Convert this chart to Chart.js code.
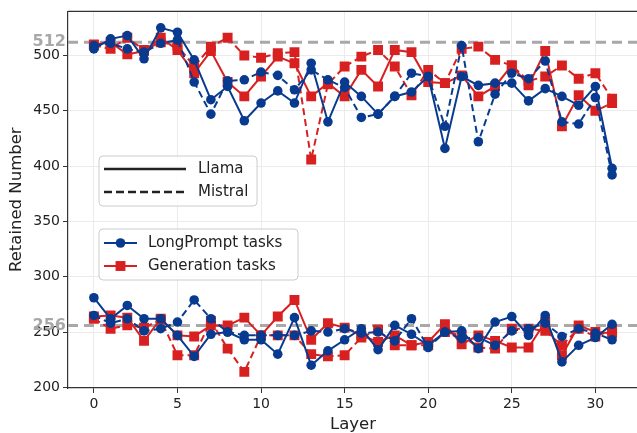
<!DOCTYPE html>
<html>
<head>
<meta charset="utf-8">
<script src="https://cdn.jsdelivr.net/npm/chart.js@4.4.1/dist/chart.umd.min.js"></script>
<style>
html, body { margin: 0; padding: 0; background: #fff; }
#wrap { width: 637px; height: 433px; overflow: hidden; }
</style>
</head>
<body>
<div id="wrap"><canvas id="myChart" width="645" height="433"></canvas></div>
<script>
var layers = [0, 1, 2, 3, 4, 5, 6, 7, 8, 9, 10, 11, 12, 13, 14, 15, 16, 17, 18, 19, 20, 21, 22, 23, 24, 25, 26, 27, 28, 29, 30, 31];

// budget 512
var llamaLong512 = [506, 515, 518, 497, 525, 521, 496, 460, 472, 441, 457, 468, 457, 493, 440, 476, 463, 447, 463, 467, 481, 416, 481, 473, 475, 475, 459, 470, 463, 455, 472, 398];
var mistralLong512 = [509, 511, 506, 503, 511, 514, 476, 447, 477, 478, 485, 482, 469, 487, 478, 471, 444, 447, 463, 484, 481, 436, 509, 422, 465, 484, 479, 495, 440, 438, 462, 392];
var llamaGen512 = [510, 512, 501, 504, 516, 505, 484, 504, 476, 463, 481, 499, 493, 463, 475, 463, 487, 472, 505, 503, 476, 475, 482, 463, 472, 491, 473, 504, 436, 464, 450, 457];
var mistralGen512 = [509, 506, 516, 505, 512, 509, 490, 508, 516, 500, 498, 502, 503, 406, 474, 490, 499, 505, 490, 464, 487, 475, 506, 508, 496, 491, 477, 481, 491, 479, 484, 461];

// budget 256
var llamaLong256 = [281, 262, 274, 262, 262, 247, 228, 248, 250, 243, 243, 230, 263, 220, 233, 243, 253, 234, 256, 248, 238, 250, 251, 235, 259, 264, 247, 265, 223, 238, 245, 257];
var mistralLong256 = [265, 258, 262, 251, 253, 259, 279, 262, 250, 247, 247, 247, 247, 251, 250, 253, 249, 250, 242, 262, 236, 250, 244, 245, 238, 251, 253, 258, 246, 253, 249, 243];
var llamaGen256 = [264, 265, 263, 242, 262, 247, 246, 256, 256, 263, 247, 264, 279, 243, 258, 254, 247, 241, 247, 238, 241, 257, 239, 247, 242, 236, 236, 259, 229, 256, 250, 249];
var mistralGen256 = [262, 253, 256, 254, 261, 229, 229, 260, 235, 214, 247, 247, 247, 230, 228, 229, 245, 252, 238, 238, 238, 250, 247, 236, 235, 253, 253, 251, 238, 253, 246, 252];

var budgets = [512, 256];
var xTicks = [0, 5, 10, 15, 20, 25, 30];
var yTicks = [200, 250, 300, 350, 400, 450, 500];

var BLUE = '#083b8f';
var RED = '#d92020';
var FONT = "'DejaVu Sans', sans-serif";
var DASH = [7, 4];

function toPoints(vals) {
    return vals.map(function(v, i) { return {x: layers[i], y: v}; });
}

function makeSet(label, vals, color, style, dashed) {
    return {
        label: label,
        data: toPoints(vals),
        borderColor: color,
        backgroundColor: color,
        borderWidth: 2,
        borderDash: dashed ? DASH : [],
        pointStyle: style,
        pointRadius: style == 'circle' ? 4.8 : 7,
        pointBorderWidth: 0,
        pointHoverRadius: 0,
        tension: 0
    };
}

function roundRect(ctx, x, y, w, h, r) {
    ctx.beginPath();
    ctx.moveTo(x + r, y);
    ctx.lineTo(x + w - r, y);
    ctx.arcTo(x + w, y, x + w, y + r, r);
    ctx.lineTo(x + w, y + h - r);
    ctx.arcTo(x + w, y + h, x + w - r, y + h, r);
    ctx.lineTo(x + r, y + h);
    ctx.arcTo(x, y + h, x, y + h - r, r);
    ctx.lineTo(x, y + r);
    ctx.arcTo(x, y, x + r, y, r);
    ctx.closePath();
}

var budgetLines = {
    id: 'budgetLines',
    beforeDatasetsDraw: function(chart) {
        var ctx = chart.ctx, area = chart.chartArea, yScale = chart.scales.y;
        ctx.save();
        budgets.forEach(function(b) {
            var y = yScale.getPixelForValue(b);
            ctx.strokeStyle = '#a8a8a8';
            ctx.lineWidth = 3;
            ctx.setLineDash([10, 6]);
            ctx.beginPath();
            ctx.moveTo(area.left, y);
            ctx.lineTo(area.right, y);
            ctx.stroke();
        });
        ctx.restore();
    },
    afterDraw: function(chart) {
        var ctx = chart.ctx, area = chart.chartArea, yScale = chart.scales.y;
        ctx.save();
        // budget labels
        ctx.fillStyle = '#a8a8a8';
        ctx.font = 'bold 16px ' + FONT;
        ctx.textAlign = 'right';
        ctx.textBaseline = 'middle';
        budgets.forEach(function(b) {
            ctx.fillText(String(b), 66, yScale.getPixelForValue(b));
        });
        // top spine
        ctx.strokeStyle = '#333';
        ctx.lineWidth = 1.2;
        ctx.beginPath();
        ctx.moveTo(area.left, area.top);
        ctx.lineTo(area.right, area.top);
        ctx.stroke();

        // legend 1: model line styles
        ctx.fillStyle = 'rgba(255,255,255,0.8)';
        ctx.strokeStyle = '#cccccc';
        ctx.lineWidth = 1;
        roundRect(ctx, 99, 156, 158, 50, 4);
        ctx.fill();
        ctx.stroke();
        ctx.strokeStyle = '#222';
        ctx.lineWidth = 2.6;
        ctx.setLineDash([]);
        ctx.beginPath(); ctx.moveTo(104, 169); ctx.lineTo(186, 169); ctx.stroke();
        ctx.setLineDash([8, 4]);
        ctx.beginPath(); ctx.moveTo(104, 192); ctx.lineTo(186, 192); ctx.stroke();
        ctx.setLineDash([]);
        ctx.fillStyle = '#222';
        ctx.font = '15px ' + FONT;
        ctx.textAlign = 'left';
        ctx.textBaseline = 'middle';
        ctx.fillText('Llama', 198, 169);
        ctx.fillText('Mistral', 198, 192);

        // legend 2: task colours
        ctx.fillStyle = 'rgba(255,255,255,0.8)';
        ctx.strokeStyle = '#cccccc';
        ctx.lineWidth = 1;
        roundRect(ctx, 99, 229, 199, 51, 4);
        ctx.fill();
        ctx.stroke();
        var rows = [
            {text: 'LongPrompt tasks', color: BLUE, style: 'circle', r: 4.8, y: 243},
            {text: 'Generation tasks', color: RED, style: 'rect', r: 7, y: 266}
        ];
        rows.forEach(function(row) {
            ctx.strokeStyle = row.color;
            ctx.lineWidth = 2;
            ctx.beginPath(); ctx.moveTo(104, row.y); ctx.lineTo(137, row.y); ctx.stroke();
            ctx.fillStyle = row.color;
            Chart.helpers.drawPoint(ctx, {pointStyle: row.style, radius: row.r, borderWidth: 0, rotation: 0}, 120.5, row.y);
            ctx.fillStyle = '#222';
            ctx.fillText(row.text, 148, row.y);
        });
        ctx.restore();
    }
};

new Chart(document.getElementById('myChart'), {
    type: 'line',
    data: {
        datasets: [
            makeSet('Llama LongPrompt 512', llamaLong512, BLUE, 'circle', false),
            makeSet('Mistral LongPrompt 512', mistralLong512, BLUE, 'circle', true),
            makeSet('Llama LongPrompt 256', llamaLong256, BLUE, 'circle', false),
            makeSet('Mistral LongPrompt 256', mistralLong256, BLUE, 'circle', true),
            makeSet('Llama Generation 512', llamaGen512, RED, 'rect', false),
            makeSet('Mistral Generation 512', mistralGen512, RED, 'rect', true),
            makeSet('Llama Generation 256', llamaGen256, RED, 'rect', false),
            makeSet('Mistral Generation 256', mistralGen256, RED, 'rect', true)
        ]
    },
    options: {
        responsive: false,
        animation: false,
        events: [],
        layout: {
            padding: {left: 0, right: 4, top: 9, bottom: 0}
        },
        plugins: {
            legend: {display: false},
            tooltip: {enabled: false}
        },
        scales: {
            x: {
                type: 'linear',
                min: -1.548,
                max: 32.55,
                afterBuildTicks: function(scale) {
                    scale.ticks = xTicks.map(function(v) { return {value: v}; });
                },
                afterFit: function(scale) { scale.height = 45; },
                grid: {color: '#ebebeb', tickColor: '#333', tickLength: 5, lineWidth: 1},
                border: {color: '#333', width: 1.2},
                ticks: {color: '#222', font: {family: FONT, size: 14}, padding: 3, maxRotation: 0},
                title: {display: true, text: 'Layer', color: '#222', font: {family: FONT, size: 16.5}, padding: {top: 0, bottom: -2}}
            },
            y: {
                min: 199.4,
                max: 539.85,
                afterBuildTicks: function(scale) {
                    scale.ticks = yTicks.map(function(v) { return {value: v}; });
                },
                afterFit: function(scale) { scale.width = 68; },
                grid: {color: '#ebebeb', tickColor: '#333', tickLength: 5, lineWidth: 1},
                border: {color: '#333', width: 1.2},
                ticks: {color: '#222', font: {family: FONT, size: 14}, padding: 3},
                title: {display: true, text: 'Retained Number', color: '#222', font: {family: FONT, size: 16.5}, padding: {top: 7, bottom: 0}}
            }
        }
    },
    plugins: [budgetLines]
});
</script>
</body>
</html>
